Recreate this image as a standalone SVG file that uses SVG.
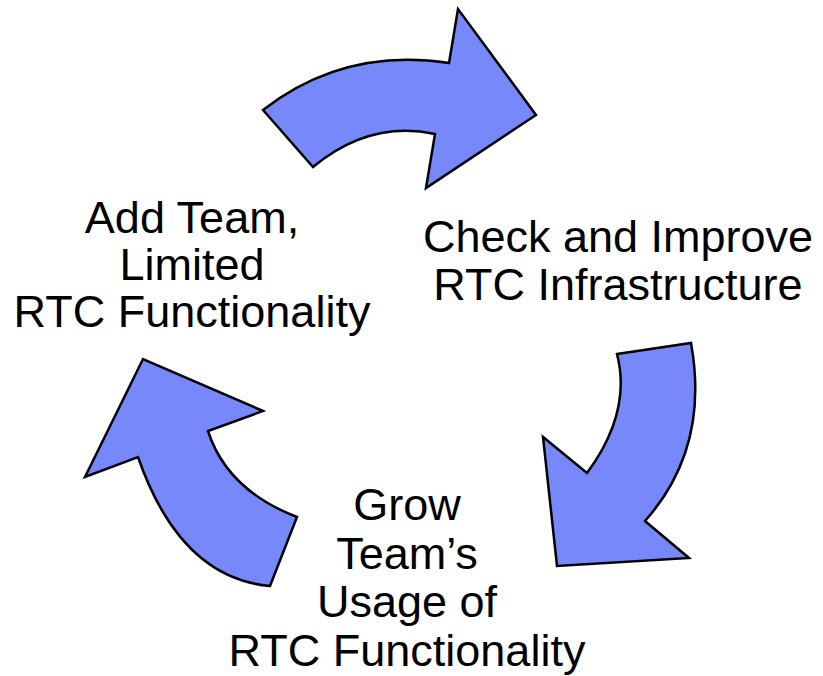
<svg xmlns="http://www.w3.org/2000/svg" width="823" height="676" viewBox="0 0 823 676">
<style>
.arrow{fill:#7788fa;stroke:#000;stroke-width:2.5;stroke-linejoin:miter}
.lbl{font-family:"Liberation Sans",Arial,sans-serif;font-size:45px;fill:#000;text-anchor:middle}
</style>
<rect width="823" height="676" fill="#fff"/>
<g id="connectors">
<path id="arrow-top" class="arrow" d="M263,110 Q344,47 449,63 L458,9 L536,115 L426,188 L435,134 Q370,120 313,167 Z"/>
<path id="arrow-right" class="arrow" d="M617,354 L691,343 Q710,448 645,521 L689,558 L557,566 L543,437 L587,473 Q632,412 617,354 Z"/>
<path id="arrow-left" class="arrow" d="M270,586 L297,517 Q227,490 208,431 L263,411 L143,359 L85,477 L138,457 Q180,578 270,586 Z"/>
</g>
<g id="node-add">
<text class="lbl" x="192" y="233">Add Team,</text>
<text class="lbl" x="192" y="280">Limited</text>
<text class="lbl" x="192" y="327">RTC Functionality</text>
</g>
<g id="node-check">
<text class="lbl" x="618" y="252">Check and Improve</text>
<text class="lbl" x="618" y="300">RTC Infrastructure</text>
</g>
<g id="node-grow">
<text class="lbl" x="407" y="520">Grow</text>
<text class="lbl" x="407" y="569">Team’s</text>
<text class="lbl" x="407" y="617">Usage of</text>
<text class="lbl" x="407" y="666">RTC Functionality</text>
</g>
</svg>
